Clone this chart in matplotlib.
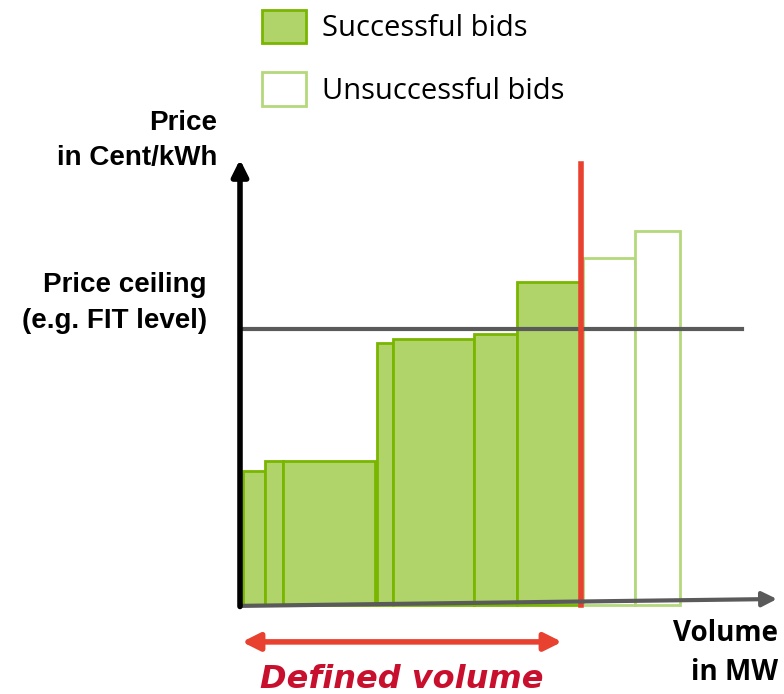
import numpy as np
import matplotlib.pyplot as plt
from matplotlib.patches import Patch

# bids: volume (MW) and price (Cent/kWh), sorted by price
volumes = [2.2, 1.8, 9.2, 1.6, 8.1, 4.3, 6.3, 5.2, 4.5]
prices = [4.47, 4.8, 4.8, 8.73, 8.87, 9.03, 10.77, 11.57, 12.47]
successful = [True, True, True, True, True, True, True, False, False]
price_ceiling = 9.2
defined_volume = 34.1

green_fill = "#b0d46a"
green_edge = "#78b600"
light_edge = "#b4d87c"

fig = plt.figure(figsize=(7.84, 6.94), dpi=100)
ax = fig.add_axes([0, 0, 1, 1])
ax.set_xlim(-24, 54.4)
ax.set_ylim(-2.967, 20.167)
ax.axis("off")

# small gaps between some blocks, just like the original drawing
gaps = [0.3, 0, 0, 0.2, 0, 0, 0, 0.3, 0]
lefts = []
x = 0
for w, g in zip(volumes, gaps):
    x += g
    lefts.append(x)
    x += w

for l, w, p, ok in zip(lefts, volumes, prices, successful):
    if ok:
        ax.bar(l, p, width=w, align="edge", color=green_fill,
               edgecolor=green_edge, linewidth=2, zorder=2)
    else:
        ax.bar(l, p, width=w, align="edge", color="white",
               edgecolor=light_edge, linewidth=2, zorder=2)

# price ceiling
ax.plot([0, 50.2], [price_ceiling, price_ceiling], color="#5a5a5a", lw=3, zorder=3)
# cut-off at defined volume
ax.plot([defined_volume, defined_volume], [0, 14.7], color="#e8412f", lw=4, zorder=4)

# axes with arrows
ax.annotate("", xy=(53.7, 0.2), xytext=(0, -0.03),
            arrowprops=dict(arrowstyle="-|>", lw=3, color="#5a5a5a",
                            mutation_scale=22, shrinkA=0, shrinkB=0), zorder=5)
ax.annotate("", xy=(0, 14.85), xytext=(0, -0.05),
            arrowprops=dict(arrowstyle="-|>", lw=4, color="black",
                            mutation_scale=24, shrinkA=0, shrinkB=0), zorder=6)

# defined volume arrow
ax.annotate("", xy=(32.2, -1.23), xytext=(0.2, -1.23),
            arrowprops=dict(arrowstyle="<|-|>", lw=4, color="#e8412f",
                            mutation_scale=26, shrinkA=0, shrinkB=0))
ax.text(16.2, -2.77, "Defined volume", color="#c8102e", fontsize=23,
        fontweight="bold", fontstyle="oblique", family="DejaVu Sans",
        ha="center", va="baseline")

lab = dict(fontsize=20, fontweight="bold", family="Liberation Sans", ha="right",
           va="center", linespacing=1.45)
ax.text(-2.3, 15.5, "Price\nin Cent/kWh", **lab)
ax.text(-3.3, 10.07, "Price ceiling\n(e.g. FIT level)", fontsize=20, fontweight="bold",
        family="Liberation Sans", ha="right", va="center", linespacing=1.5)
ax.text(53.8, -1.6, "Volume\nin MW", fontsize=20, fontweight="bold",
        family="Open Sans", ha="right", va="center", linespacing=1.45)

handles = [Patch(facecolor=green_fill, edgecolor=green_edge, linewidth=2, label="Successful bids"),
           Patch(facecolor="white", edgecolor=light_edge, linewidth=2, label="Unsuccessful bids")]
leg = ax.legend(handles=handles, loc="upper left", bbox_to_anchor=(262 / 784, 1 - 10 / 694),
                frameon=False, prop=dict(family="Open Sans", size=21),
                handlelength=1.5, handleheight=1.37, labelspacing=1.0,
                handletextpad=0.55, borderpad=0, borderaxespad=0)

fig.savefig("out.png", dpi=100)
